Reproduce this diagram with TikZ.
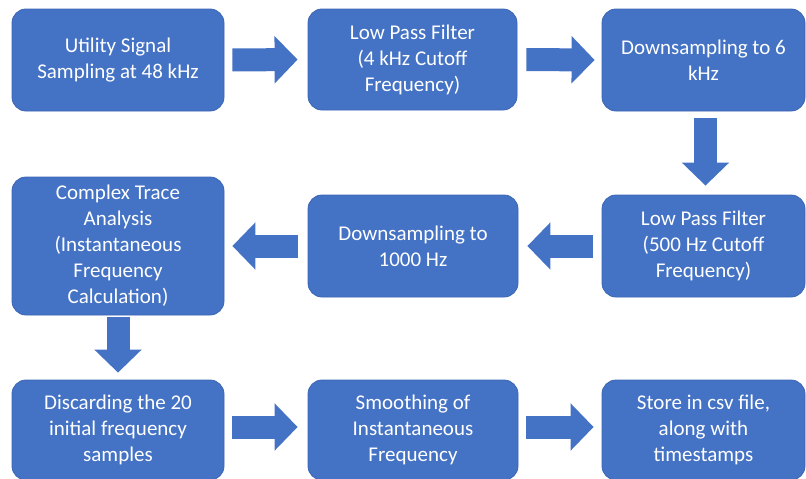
\documentclass[tikz,border=0pt]{standalone}
\usepackage{fontspec}
\setmainfont{Carlito}
\usetikzlibrary{arrows.meta}
\definecolor{boxblue}{HTML}{4472C4}
\definecolor{edgeblue}{HTML}{3B66B4}
\begin{document}
\begin{tikzpicture}[x=1pt,y=-1pt,
  stepbox/.style={draw=edgeblue,line width=0.8pt,fill=boxblue,rounded corners=14pt,
    text=white,align=center,inner sep=0pt,
    font=\fontsize{21}{26}\selectfont},
  blk/.style={draw=boxblue,line width=23pt,
    -{Triangle[width=46pt,length=23pt,fill=boxblue]}}]
\useasboundingbox (0,0) rectangle (806,479);
\begin{scope}
\clip (0,0) rectangle (806,479);
\node[stepbox,minimum width=212pt,minimum height=102pt] (b1) at (118,60) {Utility Signal\\Sampling at 48 kHz};
\node[stepbox,minimum width=209pt,minimum height=101pt] (b2) at (412.5,59.5) {Low Pass Filter\\(4 kHz Cutoff\\Frequency)};
\node[stepbox,minimum width=203pt,minimum height=102pt] (b3) at (703.5,60) {Downsampling to 6\\kHz};
\node[stepbox,minimum width=203pt,minimum height=102pt] (b6) at (703.5,246) {Low Pass Filter\\(500 Hz Cutoff\\Frequency)};
\node[stepbox,minimum width=210pt,minimum height=102pt] (b5) at (413,246) {Downsampling to\\1000 Hz};
\node[stepbox,minimum width=212pt,minimum height=138pt] (b4) at (118,246) {Complex Trace\\Analysis\\(Instantaneous\\Frequency\\Calculation)};
\node[stepbox,minimum width=212pt,minimum height=100pt] (b7) at (118,430) {Discarding the 20\\initial frequency\\samples};
\node[stepbox,minimum width=210pt,minimum height=100pt] (b8) at (413,430) {Smoothing of\\Instantaneous\\Frequency};
\node[stepbox,minimum width=203pt,minimum height=100pt] (b9) at (703.5,430) {Store in csv file,\\along with\\timestamps};
\end{scope}
\draw[blk,shorten <=8pt,shorten >=10pt] (b1.east) -- (b2.west);
\draw[blk,shorten <=9pt,shorten >=7pt] (b2.east) -- (b3.west);
\draw[blk,shorten <=7pt,shorten >=9pt] ([xshift=2pt]b3.south) -- ([xshift=2pt]b6.north);
\draw[blk,shorten <=9pt,shorten >=9pt] (b6.west) -- (b5.east);
\draw[blk,shorten <=10pt,shorten >=8pt] (b5.west) -- (b4.east);
\draw[blk,shorten <=2pt,shorten >=7pt] (b4.south) -- (b7.north);
\draw[blk,shorten <=8pt,shorten >=10pt] ([yshift=3pt]b7.east) -- ([yshift=3pt]b8.west);
\draw[blk,shorten <=8pt,shorten >=8pt] ([yshift=3pt]b8.east) -- ([yshift=3pt]b9.west);
\end{tikzpicture}
\end{document}
